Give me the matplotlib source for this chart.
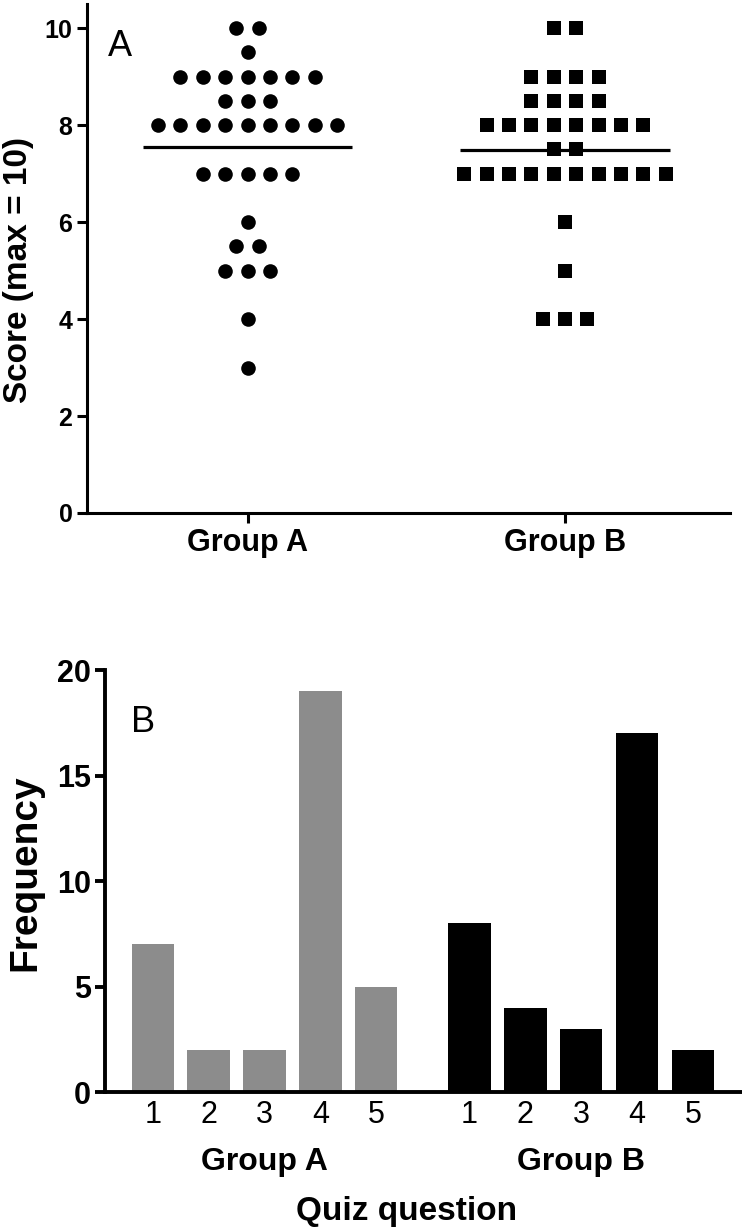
import numpy as np
import matplotlib.pyplot as plt
from collections import Counter

plt.rcParams['font.family'] = ['Liberation Sans', 'DejaVu Sans']

# panel A: individual scores (max = 10)
group_a_scores = [10, 10, 9.5, 9, 9, 9, 9, 9, 9, 9, 8.5, 8.5, 8.5,
                  8, 8, 8, 8, 8, 8, 8, 8, 8, 7, 7, 7, 7, 7,
                  6, 5.5, 5.5, 5, 5, 5, 4, 3]
group_b_scores = [10, 10, 9, 9, 9, 9, 8.5, 8.5, 8.5, 8.5,
                  8, 8, 8, 8, 8, 8, 8, 8, 7.5, 7.5,
                  7, 7, 7, 7, 7, 7, 7, 7, 7, 7, 6, 5, 4, 4, 4]
score_groups = ['Group A', 'Group B']

# panel B: frequency per quiz question
questions = ['1', '2', '3', '4', '5']
freq_a = [7, 2, 2, 19, 5]
freq_b = [8, 4, 3, 17, 2]


def swarm_x(center, values, step=0.0706):
    # spread equal values sideways, centred on the group
    counts = Counter(values)
    seen = Counter()
    xs = []
    for v in values:
        n = counts[v]
        xs.append(center + (seen[v] - (n - 1) / 2.) * step)
        seen[v] += 1
    return np.array(xs)


fig = plt.figure(figsize=(7.42, 12.31), dpi=100)

# ---- panel A ----
ax = fig.add_axes([0.1173, 0.5833, 0.8666, 0.4135])
xa = swarm_x(1, group_a_scores)
xb = swarm_x(2, group_b_scores)
ax.plot(xa, group_a_scores, 'o', color='black', ms=10.5, mew=0)
ax.plot(xb, group_b_scores, 's', color='black', ms=10, mew=0)
for c, vals in zip([1, 2], [group_a_scores, group_b_scores]):
    m = np.mean(vals)
    ax.plot([c - 0.33, c + 0.33], [m, m], color='black', lw=2.3, solid_capstyle='butt')

ax.set_xlim(0.494, 2.52)
ax.set_ylim(0, 10.5)
ax.set_yticks([0, 2, 4, 6, 8, 10])
ax.set_xticks([1, 2])
ax.set_xticklabels(score_groups)
for s in ['top', 'right']:
    ax.spines[s].set_visible(False)
for s in ['left', 'bottom']:
    ax.spines[s].set_linewidth(2.2)
ax.tick_params(width=2.2, length=7, pad=3.5)
ax.tick_params(axis='y', labelsize=18)
ax.tick_params(axis='x', labelsize=22)
for lbl in ax.get_xticklabels() + ax.get_yticklabels():
    lbl.set_fontweight('bold')
ax.set_ylabel('Score (max = 10)', fontsize=24, fontweight='bold')
ax.yaxis.set_label_coords(-0.083, 0.477)
ax.text(0.033, 0.95, 'A', transform=ax.transAxes, fontsize=26, va='top', ha='left')

# ---- panel B ----
bx = fig.add_axes([0.1415, 0.1129, 0.8585, 0.3428])
pos_a = np.arange(1, len(questions) + 1)
pos_b = pos_a + len(questions) + 0.67
bx.bar(pos_a, freq_a, width=0.76, color='#8c8c8c')
bx.bar(pos_b, freq_b, width=0.76, color='black')
bx.set_xlim(0.145, 11.55)
bx.set_ylim(0, 20)
bx.set_yticks([0, 5, 10, 15, 20])
bx.set_xticks(np.concatenate([pos_a, pos_b]))
bx.set_xticklabels(questions + questions)
for s in ['top', 'right']:
    bx.spines[s].set_visible(False)
for s in ['left', 'bottom']:
    bx.spines[s].set_linewidth(2.8)
bx.tick_params(axis='y', width=2.8, length=7, labelsize=22, pad=3)
bx.tick_params(axis='x', length=0, labelsize=22, pad=6)
for lbl in bx.get_yticklabels():
    lbl.set_fontweight('bold')
bx.set_ylabel('Frequency', fontsize=28, fontweight='bold')
bx.yaxis.set_label_coords(-0.097, 0.52)
bx.text(0.041, 0.917, 'B', transform=bx.transAxes, fontsize=26, va='top', ha='left')

trans = bx.get_xaxis_transform()
bx.text(pos_a[2], -0.165, score_groups[0], transform=trans, ha='center', va='center',
        fontsize=23, fontweight='bold')
bx.text(pos_b[2], -0.165, score_groups[1], transform=trans, ha='center', va='center',
        fontsize=23, fontweight='bold')
bx.text((pos_a[0] + pos_b[-1]) / 2 - 0.285, -0.282, 'Quiz question', transform=trans,
        ha='center', va='center', fontsize=24, fontweight='bold')

fig.savefig('out.png', dpi=100)
